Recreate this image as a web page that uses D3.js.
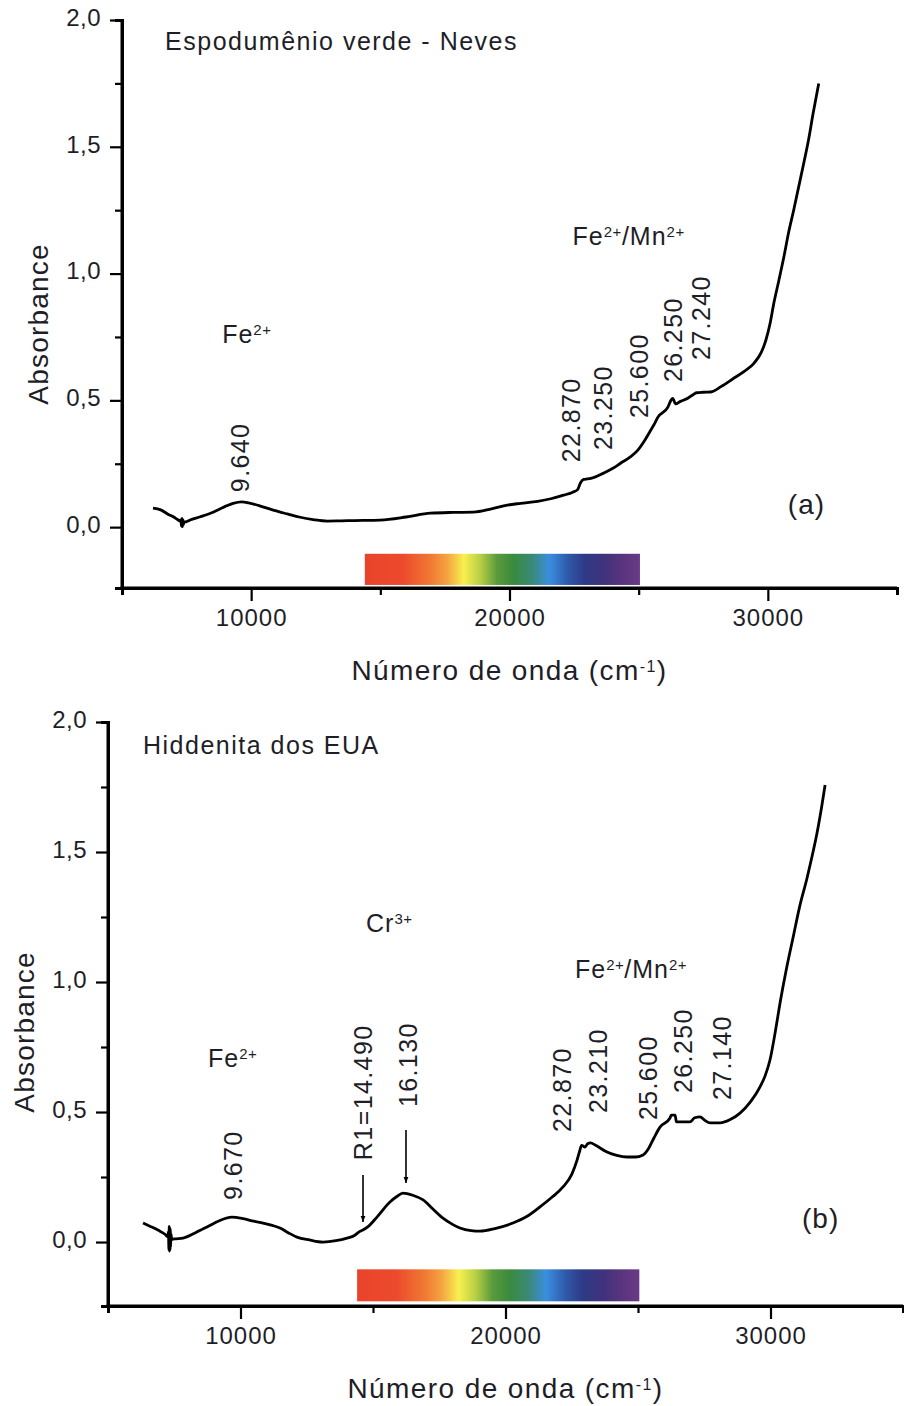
<!DOCTYPE html>
<html>
<head>
<meta charset="utf-8">
<script src="https://cdn.jsdelivr.net/npm/d3@7"></script>
<style>
  html, body { margin: 0; padding: 0; background: #fff; }
  svg { display: block; }
  text { font-family: "Liberation Sans", Arial, sans-serif; fill: #1e1e28; }
</style>
</head>
<body>
<svg id="chart" width="904" height="1406"></svg>
<script>
// ---- Spectrum (a): Espodumênio verde - Neves ----
const wavenumberA = [6200, 6500, 6800, 7000, 7150, 7250, 7280, 7300, 7320, 7340, 7360, 7380, 7400, 7500, 7636, 8000, 8527, 9000, 9300, 9640, 9900, 10300, 10853, 11400, 11900, 12400, 12946, 13500, 14000, 15000, 16000, 16940, 17800, 18600, 19300, 19920, 20430, 21090, 21600, 22093, 22450, 22636, 22750, 22870, 23023, 23250, 23640, 24000, 24300, 24650, 24960, 25250, 25465, 25600, 25740, 26125, 26250, 26318, 26430, 26600, 26900, 27100, 27240, 27500, 27790, 28200, 28680, 29100, 29460, 29750, 29920, 30080, 30230, 30420, 30620, 30800, 31000, 31200, 31400, 31580, 31750, 31970];
const absorbA = [0.075, 0.068, 0.050, 0.040, 0.030, 0.024, 0.030, 0.004, 0.034, 0.002, 0.030, 0.010, 0.020, 0.022, 0.028, 0.040, 0.059, 0.082, 0.094, 0.100, 0.096, 0.085, 0.067, 0.052, 0.039, 0.030, 0.024, 0.025, 0.026, 0.028, 0.040, 0.055, 0.058, 0.059, 0.072, 0.087, 0.094, 0.102, 0.112, 0.126, 0.138, 0.148, 0.175, 0.188, 0.190, 0.195, 0.213, 0.232, 0.252, 0.275, 0.303, 0.345, 0.382, 0.405, 0.433, 0.472, 0.500, 0.508, 0.486, 0.495, 0.508, 0.522, 0.530, 0.532, 0.533, 0.555, 0.587, 0.615, 0.646, 0.690, 0.736, 0.800, 0.882, 0.970, 1.065, 1.160, 1.250, 1.345, 1.440, 1.530, 1.630, 1.750];

// ---- Spectrum (b): Hiddenita dos EUA ----
const wavenumberB = [6321, 6600, 6900, 7150, 7260, 7280, 7300, 7310, 7320, 7330, 7340, 7350, 7360, 7380, 7400, 7500, 7830, 8300, 8736, 9200, 9670, 10100, 10500, 10850, 11200, 11490, 11800, 12130, 12600, 13110, 13600, 14020, 14300, 14490, 14620, 14800, 15150, 15640, 15900, 16130, 16500, 16890, 17250, 17640, 18000, 18280, 18700, 19040, 19600, 20280, 20800, 21300, 21750, 22170, 22500, 22700, 22800, 22870, 23000, 23100, 23210, 23400, 23830, 24200, 24580, 24900, 25190, 25400, 25600, 25830, 26210, 26250, 26400, 26450, 26960, 27140, 27340, 27520, 27720, 28090, 28500, 28850, 29250, 29600, 29800, 29980, 30200, 30360, 30600, 30850, 31100, 31380, 31550, 31750, 31940, 32060];
const absorbB = [0.073, 0.060, 0.045, 0.030, 0.020, 0.040, -0.030, 0.060, -0.035, 0.055, -0.030, 0.050, -0.020, 0.030, 0.010, 0.012, 0.015, 0.036, 0.058, 0.082, 0.096, 0.090, 0.080, 0.073, 0.064, 0.054, 0.036, 0.019, 0.008, 0.000, 0.005, 0.015, 0.025, 0.040, 0.046, 0.058, 0.096, 0.154, 0.175, 0.188, 0.180, 0.162, 0.128, 0.092, 0.068, 0.054, 0.044, 0.042, 0.052, 0.073, 0.098, 0.135, 0.172, 0.212, 0.260, 0.315, 0.350, 0.372, 0.365, 0.378, 0.381, 0.372, 0.346, 0.333, 0.327, 0.327, 0.335, 0.360, 0.400, 0.442, 0.477, 0.488, 0.488, 0.462, 0.462, 0.478, 0.481, 0.468, 0.458, 0.458, 0.472, 0.496, 0.540, 0.596, 0.640, 0.700, 0.820, 0.919, 1.050, 1.170, 1.290, 1.400, 1.475, 1.570, 1.680, 1.758];

// ---- Axis ticks ----
const xTickValues = [10000, 20000, 30000];
const xMinorTicks = [5000, 15000, 25000, 35000];
const yTickValues = [0, 0.5, 1.0, 1.5, 2.0];
const yMinorTicks = [0.25, 0.75, 1.25, 1.75];

// ---- Visible spectrum strip (wavenumber range and colours) ----
const visibleRange = [14400, 25050];
const visibleColors = ["#e8442c", "#ec4a2c", "#f07a34", "#f5a440", "#f8f050", "#b8cf44", "#5a9a3c", "#3a8a3e", "#3a8a7a", "#3b8ee0", "#2f58a8", "#2e3a86", "#40327c", "#5a357e", "#6a3a86"];
const visibleOffsets = [0, 0.14, 0.24, 0.3, 0.36, 0.42, 0.48, 0.54, 0.61, 0.67, 0.74, 0.8, 0.87, 0.94, 1];

// ---- Band assignments ----
const peaksA = ["9.640", "22.870", "23.250", "25.600", "26.250", "27.240"];
const peakPosA = [[9574, 0.138], [22364, 0.256], [23605, 0.304], [25000, 0.430], [26318, 0.572], [27403, 0.659]];
const peaksB = ["9.670", "R1=14.490", "16.130", "22.870", "23.210", "25.600", "26.250", "27.140"];
const peakPosB = [[9717, 0.162], [14623, 0.315], [16321, 0.519], [22132, 0.423], [23491, 0.496], [25377, 0.469], [26698, 0.573], [28170, 0.546]];
const arrowsB = [[14623, 0.258, 0.077], [16245, 0.431, 0.227]];

const svg = d3.select("#chart");

// arrow head marker
svg.append("defs").append("marker")
  .attr("id", "arrowhead")
  .attr("viewBox", "0 0 10 10")
  .attr("refX", 10).attr("refY", 5)
  .attr("markerWidth", 4).attr("markerHeight", 4)
  .attr("markerUnits", "strokeWidth")
  .attr("orient", "auto")
  .append("path").attr("d", "M0,1 L10,5 L0,9 Z").attr("fill", "#000");

const grad = svg.select("defs").append("linearGradient")
  .attr("id", "visible").attr("x1", "0%").attr("x2", "100%");
visibleColors.forEach((c, i) => {
  grad.append("stop").attr("offset", visibleOffsets[i]).attr("stop-color", c);
});

const fmtY = d => d3.format(".1f")(d).replace(".", ",");

// text with superscripts: parts = [[text, isSup], ...]
function richText(g, x, y, parts, size) {
  const t = g.append("text").attr("x", x).attr("y", y)
    .attr("font-size", size).attr("letter-spacing", 1);
  parts.forEach(([s, sup]) => {
    if (sup) {
      t.append("tspan").text(s).attr("font-size", size * 0.6)
        .attr("baseline-shift", "super").attr("letter-spacing", 0.5);
    } else {
      t.append("tspan").text(s);
    }
  });
  return t;
}

function drawPanel(cfg) {
  const x = d3.scaleLinear().domain([5000, 35000]).range([cfg.left, cfg.right]);
  const y = d3.scaleLinear().domain([cfg.yMin, 2.0]).range([cfg.bottom, cfg.top]);
  const g = svg.append("g");

  // minor ticks
  const xMinor = d3.axisBottom(x).tickValues(xMinorTicks).tickSize(7).tickFormat("");
  const yMinor = d3.axisLeft(y).tickValues(yMinorTicks).tickSize(7).tickFormat("");
  g.append("g").attr("transform", `translate(0,${cfg.bottom})`).call(xMinor);
  g.append("g").attr("transform", `translate(${cfg.left},0)`).call(yMinor);

  // major axes
  const xAxis = d3.axisBottom(x).tickValues(xTickValues).tickSize(13).tickPadding(8).tickFormat(d3.format("d"));
  const yAxis = d3.axisLeft(y).tickValues(yTickValues).tickSize(12).tickPadding(9).tickFormat(fmtY);
  const gx = g.append("g").attr("transform", `translate(0,${cfg.bottom})`).call(xAxis);
  const gy = g.append("g").attr("transform", `translate(${cfg.left},0)`).call(yAxis);

  g.selectAll(".domain").attr("stroke", "#000").attr("stroke-width", 3);
  g.selectAll(".tick line").attr("stroke", "#000").attr("stroke-width", 2.2);
  // extend x axis line flush with the y axis line
  gx.select(".domain").attr("d", `M${cfg.left - 1.5},0H${cfg.right}`);
  gy.select(".domain").attr("d", `M0,${cfg.bottom + 1.5}V${cfg.top}`);
  gx.selectAll(".tick text").attr("font-size", 24).attr("letter-spacing", 1)
    .attr("font-family", "Liberation Sans, Arial, sans-serif").attr("fill", "#1e1e3a");
  gy.selectAll(".tick text").attr("font-size", 24).attr("letter-spacing", 0.5).attr("dy", "0.22em")
    .attr("font-family", "Liberation Sans, Arial, sans-serif").attr("fill", "#1e1e3a");

  // visible spectrum strip
  g.append("rect")
    .attr("x", x(visibleRange[0])).attr("width", x(visibleRange[1]) - x(visibleRange[0]))
    .attr("y", y(-0.105)).attr("height", y(-0.228) - y(-0.105))
    .attr("fill", "url(#visible)");

  // spectrum line
  const pts = cfg.wn.map((w, i) => [w, cfg.ab[i]]);
  g.append("path").datum(pts)
    .attr("fill", "none").attr("stroke", "#000").attr("stroke-width", 2.8)
    .attr("stroke-linejoin", "round")
    .attr("d", d3.line().curve(d3.curveMonotoneX).x(d => x(d[0])).y(d => y(d[1])));

  // axis titles
  const xt = g.append("text").attr("x", (x(5000) + x(35000)) / 2 + cfg.xTitleShift)
    .attr("y", cfg.bottom + 92).attr("text-anchor", "middle")
    .attr("font-size", 28).attr("letter-spacing", 1.4);
  xt.append("tspan").text("Número de onda (cm");
  xt.append("tspan").text("-1").attr("font-size", 16).attr("baseline-shift", "super");
  xt.append("tspan").text(")");

  g.append("text")
    .attr("transform", `translate(${cfg.yTitleX},${(y(2.0) + y(cfg.yMin)) / 2 + cfg.yTitleShift}) rotate(-90)`)
    .attr("text-anchor", "middle").attr("font-size", 28).attr("letter-spacing", 1.2)
    .text("Absorbance");

  // sample name
  g.append("text").attr("x", x(cfg.title[1])).attr("y", y(cfg.title[2]))
    .attr("font-size", 25).attr("letter-spacing", 1.5).text(cfg.title[0]);

  // ion labels
  cfg.ions.forEach(([parts, wx, wy]) => richText(g, x(wx), y(wy), parts, 25));

  // panel letter
  g.append("text").attr("x", x(cfg.letter[1])).attr("y", y(cfg.letter[2]))
    .attr("font-size", 28).attr("letter-spacing", 1).text(cfg.letter[0]);

  // band positions (rotated)
  cfg.peaks.forEach((label, i) => {
    const [px, py] = cfg.peakPos[i];
    g.append("text")
      .attr("transform", `translate(${x(px)},${y(py)}) rotate(-90)`)
      .attr("dominant-baseline", "central")
      .attr("font-size", 25).attr("letter-spacing", 1.4)
      .text(label);
  });

  // arrows
  (cfg.arrows || []).forEach(([wx, y0, y1]) => {
    g.append("line")
      .attr("x1", x(wx)).attr("x2", x(wx)).attr("y1", y(y0)).attr("y2", y(y1))
      .attr("stroke", "#000").attr("stroke-width", 1.6)
      .attr("marker-end", "url(#arrowhead)");
  });
}

drawPanel({
  left: 122, right: 897, top: 20, bottom: 588, yMin: -0.24,
  wn: wavenumberA, ab: absorbA,
  title: ["Espodumênio verde - Neves", 6667, 1.882],
  ions: [
    [[["Fe", false], ["2+", true]], 8876, 0.726],
    [[["Fe", false], ["2+", true], ["/Mn", false], ["2+", true]], 22442, 1.112]
  ],
  letter: ["(a)", 30775, 0.051],
  peaks: peaksA, peakPos: peakPosA,
  yTitleX: 48, yTitleShift: 20, xTitleShift: 0
});

drawPanel({
  left: 108, right: 903, top: 722, bottom: 1306, yMin: -0.246,
  wn: wavenumberB, ab: absorbB,
  title: ["Hiddenita dos EUA", 6321, 1.877],
  ions: [
    [[["Cr", false], ["3+", true]], 14736, 1.192],
    [[["Fe", false], ["2+", true]], 8774, 0.673],
    [[["Fe", false], ["2+", true], ["/Mn", false], ["2+", true]], 22623, 1.015]
  ],
  letter: ["(b)", 31189, 0.054],
  peaks: peaksB, peakPos: peakPosB, arrows: arrowsB,
  yTitleX: 34, yTitleShift: 18, xTitleShift: 0
});
</script>
</body>
</html>
